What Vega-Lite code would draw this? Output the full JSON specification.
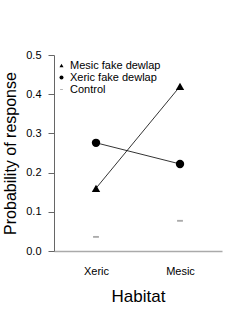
{
  "$schema": "https://vega.github.io/schema/vega-lite/v6.json",
  "autosize": "none",
  "width": 168,
  "height": 196,
  "padding": {"left": 54, "top": 55, "right": 29, "bottom": 69},
  "background": "white",
  "config": {
    "view": {"stroke": null},
    "font": "Liberation Sans"
  },
  "data": {
    "values": [
      {"habitat": "Xeric", "group": "Mesic fake dewlap", "p": 0.16},
      {"habitat": "Mesic", "group": "Mesic fake dewlap", "p": 0.42},
      {"habitat": "Xeric", "group": "Xeric fake dewlap", "p": 0.276},
      {"habitat": "Mesic", "group": "Xeric fake dewlap", "p": 0.222},
      {"habitat": "Xeric", "group": "Control", "p": 0.036},
      {"habitat": "Mesic", "group": "Control", "p": 0.077}
    ]
  },
  "encoding": {
    "x": {
      "field": "habitat",
      "type": "nominal",
      "sort": ["Xeric", "Mesic"],
      "scale": {"type": "point", "padding": 0.5},
      "axis": {
        "title": "Habitat",
        "labelAngle": 0,
        "labelFontSize": 11,
        "labelColor": "black",
        "labelPadding": 14,
        "ticks": false,
        "domainColor": "#aaaaaa",
        "domainWidth": 1.5,
        "titleFontSize": 17,
        "titleFontWeight": "normal",
        "titleColor": "black",
        "titlePadding": 12
      }
    },
    "y": {
      "field": "p",
      "type": "quantitative",
      "scale": {"domain": [0, 0.5]},
      "axis": {
        "title": "Probability of response",
        "values": [0, 0.1, 0.2, 0.3, 0.4, 0.5],
        "format": ".1f",
        "grid": false,
        "labelFontSize": 11,
        "labelColor": "black",
        "tickColor": "#666666",
        "domainColor": "#666666",
        "tickSize": 6,
        "labelPadding": 7,
        "titleFontSize": 16,
        "titleFontWeight": "normal",
        "titleColor": "black",
        "titlePadding": 7
      }
    }
  },
  "layer": [
    {
      "transform": [{"filter": "datum.group !== 'Control'"}],
      "mark": {"type": "line", "color": "black", "strokeWidth": 0.8},
      "encoding": {"detail": {"field": "group"}}
    },
    {
      "mark": {"type": "point", "filled": true, "opacity": 1, "size": 70},
      "encoding": {
        "shape": {
          "field": "group",
          "type": "nominal",
          "scale": {
            "domain": ["Mesic fake dewlap", "Xeric fake dewlap", "Control"],
            "range": ["triangle-up", "circle", "M-0.7,-0.22H0.7V0.22H-0.7Z"]
          },
          "legend": {
            "title": null,
            "orient": "none",
            "legendX": 2,
            "legendY": 5,
            "labelFontSize": 11,
            "labelColor": "black",
            "symbolSize": 16,
            "rowPadding": 0,
            "labelOffset": 3,
            "symbolStrokeWidth": 0,
            "encode": {"symbols": {"update": {"size": {"value": 16}}}}
          }
        },
        "color": {
          "field": "group",
          "type": "nominal",
          "scale": {
            "domain": ["Mesic fake dewlap", "Xeric fake dewlap", "Control"],
            "range": ["black", "black", "#aaaaaa"]
          },
          "legend": {
            "title": null,
            "orient": "none",
            "legendX": 2,
            "legendY": 5,
            "labelFontSize": 11,
            "labelColor": "black",
            "symbolSize": 16,
            "rowPadding": 0,
            "labelOffset": 3,
            "symbolStrokeWidth": 0,
            "encode": {"symbols": {"update": {"size": {"value": 16}}}}
          }
        }
      }
    }
  ]
}
